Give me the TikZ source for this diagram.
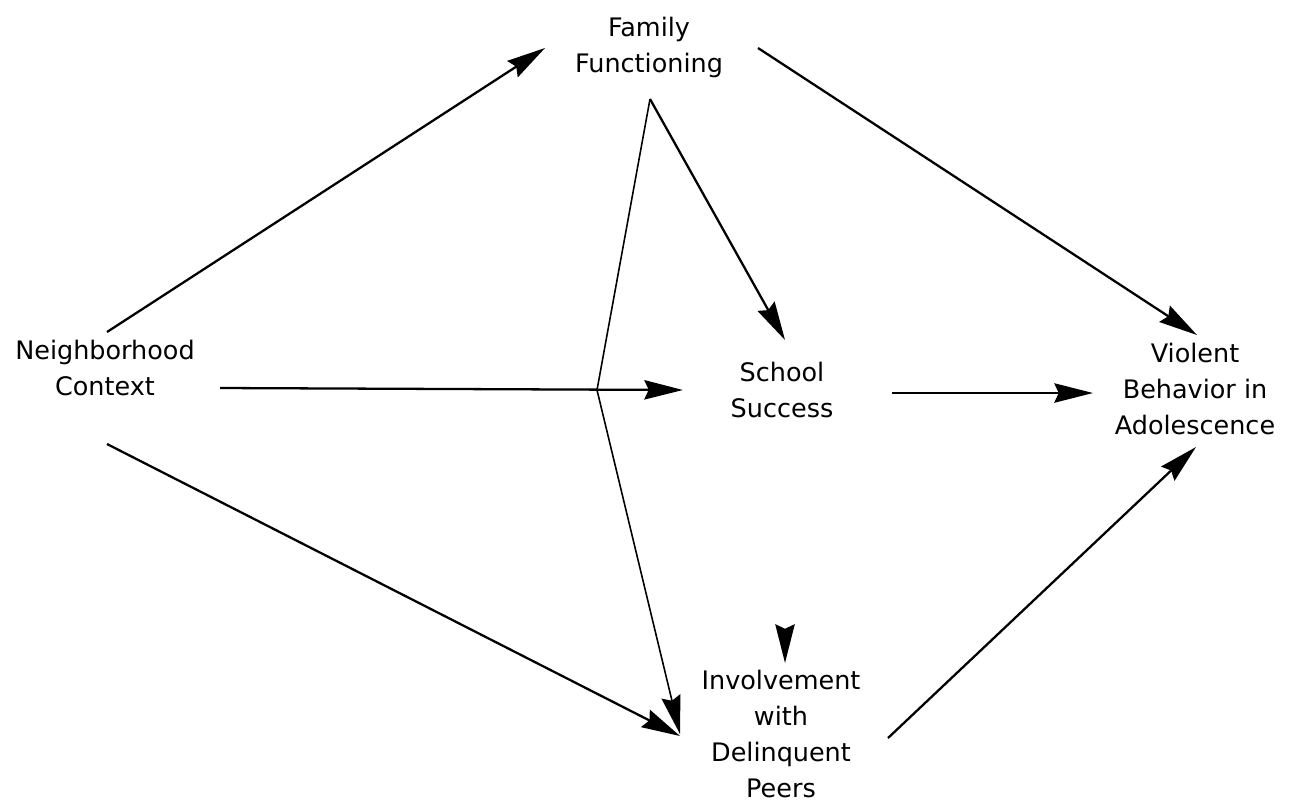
\documentclass[tikz,border=0pt]{standalone}
\usepackage{fontspec}
\setmainfont{DejaVu Sans}
\usetikzlibrary{arrows.meta}
\usetikzlibrary{calc}

\begin{document}
\begin{tikzpicture}[x = 0.02cm, y = -0.02cm,
	box/.style = {align = center, inner sep = 0pt, font = \fontsize{14.5}{20.5}\selectfont},
	link/.style = {line width = 1.3pt, -{Stealth[length = 22pt, width = 11pt, inset = 2.5pt]}}]
	
	\useasboundingbox (0,0) rectangle (1290,802);
	
	\node[box] (nbr) at (105,368) {Neighborhood\\Context};
	\node[box] (fam) at (649,47) {Family\\Functioning};
	\node[box] (school) at (782,390) {School\\Success};
	\node[box] (peers) at (781,734) {Involvement\\with\\Delinquent\\Peers};
	\node[box] (viol) at (1195,389) {Violent\\Behavior in\\Adolescence};
	
	\draw[link] ($(nbr.center)+(2,-36)$) -- ($(fam.center)+(-104,1)$);
	\draw[link] ($(nbr.center)+(115,20)$) -- ($(school.center)+(-99,0)$);
	\draw[link] ($(nbr.center)+(2,76)$) -- ($(peers.center)+(-101,2)$);
	
	\draw[link] ($(fam.center)+(109,1)$) -- ($(viol.center)+(2,-54)$);
	\draw[link] ($(fam.center)+(1,52)$) -- ($(school.center)+(3,-50)$);
	\draw[link, line width = 0.9pt] ($(fam.center)+(1,52)$) -- (597,390) -- ($(peers.center)+(-101,0)$);
	
	\draw[link] ($(school.center)+(110,3)$) -- ($(viol.center)+(-102,4)$);
	\draw[link] ($(school.center)+(3,239)$) -- ($(school.center)+(3,273)$);
	
	\draw[link] ($(peers.center)+(107,4)$) -- ($(viol.center)+(1,58)$);
\end{tikzpicture}
\end{document}
